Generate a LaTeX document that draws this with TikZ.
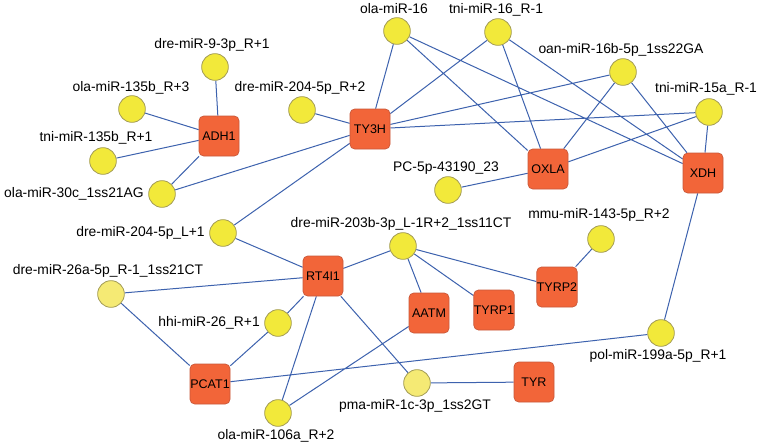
\documentclass[tikz,border=0pt]{standalone}
\usepackage{fontspec}
\setmainfont{Liberation Sans}
\usetikzlibrary{backgrounds}
\definecolor{mirY}{HTML}{F2E93A}
\definecolor{mirL}{HTML}{F5EA74}
\definecolor{mirB}{HTML}{A39C55}
\definecolor{genF}{HTML}{F26539}
\definecolor{genB}{HTML}{C8583A}
\definecolor{edgeC}{HTML}{3D62AE}
\tikzset{
  mir/.style={circle, fill=mirY, draw=mirB, line width=0.6pt, minimum size=20pt, inner sep=0pt},
  mirlight/.style={mir, fill=mirL},
  gene/.style={rectangle, rounded corners=3.5pt, fill=genF, draw=genB, line width=0.5pt, minimum size=30pt, inner sep=0pt, font=\fontsize{9.4}{10}\selectfont},
  lab/.style={inner sep=0pt, font=\fontsize{10.4}{12}\selectfont},
  edge/.style={draw=edgeC, line width=0.75pt}
}
\begin{document}
\begin{tikzpicture}[x=0.75pt, y=-0.75pt]
\useasboundingbox (0,0) rectangle (759,446);
% miRNA circles
\node[mir] (c9) at (215,67) {};
\node[mir] (c135b3) at (132,109) {};
\node[mir] (c135b1) at (103,161) {};
\node[mir] (c30c) at (162,194) {};
\node[mir] (c204R2) at (302,110) {};
\node[mir] (c16) at (397,31) {};
\node[mir] (c16R1) at (498,32) {};
\node[mir] (c16b) at (623,72) {};
\node[mir] (c15a) at (709,112) {};
\node[mir] (cPC) at (448,190) {};
\node[mir] (c204L1) at (223,233) {};
\node[mirlight] (c26a) at (111,294) {};
\node[mir] (c26) at (278,323) {};
\node[mir] (c106a) at (278,413) {};
\node[mir] (c203b) at (403,246) {};
\node[mir] (c143) at (601,239) {};
\node[mir] (c199a) at (661,333) {};
\node[mirlight] (c1c) at (417,383) {};
% labels
\node[lab] (l9) at (212,45) {dre-miR-9-3p\_R+1};
\node[lab] (l135b3) at (131,88) {ola-miR-135b\_R+3};
\node[lab] (l135b1) at (96,138) {tni-miR-135b\_R+1};
\node[lab, anchor=east] (l30c) at (144,194) {ola-miR-30c\_1ss21AG};
\node[lab] (l204R2) at (300,88) {dre-miR-204-5p\_R+2};
\node[lab] (l16) at (394,9) {ola-miR-16};
\node[lab] (l16R1) at (496,10) {tni-miR-16\_R-1};
\node[lab] (l16b) at (621,50) {oan-miR-16b-5p\_1ss22GA};
\node[lab] (l15a) at (706,89) {tni-miR-15a\_R-1};
\node[lab] (lPC) at (446,168) {PC-5p-43190\_23};
\node[lab, anchor=east] (l204L1) at (205,233) {dre-miR-204-5p\_L+1};
\node[lab] (l26a) at (108,271) {dre-miR-26a-5p\_R-1\_1ss21CT};
\node[lab, anchor=east] (l26) at (260,323) {hhi-miR-26\_R+1};
\node[lab] (l106a) at (276,436) {ola-miR-106a\_R+2};
\node[lab] (l203b) at (401,224) {dre-miR-203b-3p\_L-1R+2\_1ss11CT};
\node[lab] (l143) at (599,215) {mmu-miR-143-5p\_R+2};
\node[lab] (l199a) at (658,356) {pol-miR-199a-5p\_R+1};
\node[lab] (l1c) at (415,406) {pma-miR-1c-3p\_1ss2GT};
% genes
\node[gene] (ADH1) at (219,136) {ADH1};
\node[gene] (TY3H) at (370,129) {TY3H};
\node[gene] (OXLA) at (548,169) {OXLA};
\node[gene] (XDH) at (703,173) {XDH};
\node[gene] (RT4I1) at (323,276) {RT4I1};
\node[gene] (PCAT1) at (210,384) {PCAT1};
\node[gene] (AATM) at (429,313) {AATM};
\node[gene] (TYRP1) at (494,310) {TYRP1};
\node[gene] (TYRP2) at (557,287) {TYRP2};
\node[gene] (TYR) at (534,382) {TYR};
% edges
\begin{scope}[on background layer]
\fill[white] (0,0) rectangle (759,446);
\path[edge]
  (ADH1) -- (c9)
  (ADH1) -- (c135b3)
  (ADH1) -- (c135b1)
  (ADH1) -- (c30c)
  (TY3H) -- (c30c)
  (TY3H) -- (c204R2)
  (TY3H) -- (c16)
  (TY3H) -- (c16R1)
  (TY3H) -- (c16b)
  (TY3H) -- (c15a)
  (TY3H) -- (c204L1)
  (c16) -- (OXLA)
  (c16) -- (XDH)
  (c16R1) -- (OXLA)
  (c16R1) -- (XDH)
  (c16b) -- (OXLA)
  (c16b) -- (XDH)
  (c15a) -- (OXLA)
  (c15a) -- (XDH)
  (OXLA) -- (cPC)
  (XDH) -- (c199a)
  (c199a) -- (PCAT1)
  (c204L1) -- (RT4I1)
  (RT4I1) -- (c26a)
  (RT4I1) -- (c26)
  (RT4I1) -- (c106a)
  (RT4I1) -- (c1c)
  (RT4I1) -- (c203b)
  (c203b) -- (AATM)
  (c203b) -- (TYRP1)
  (c203b) -- (TYRP2)
  (TYRP2) -- (c143)
  (AATM) -- (c106a)
  (PCAT1) -- (c26a)
  (PCAT1) -- (c26)
  (c1c) -- (TYR);
\end{scope}
\end{tikzpicture}
\end{document}
